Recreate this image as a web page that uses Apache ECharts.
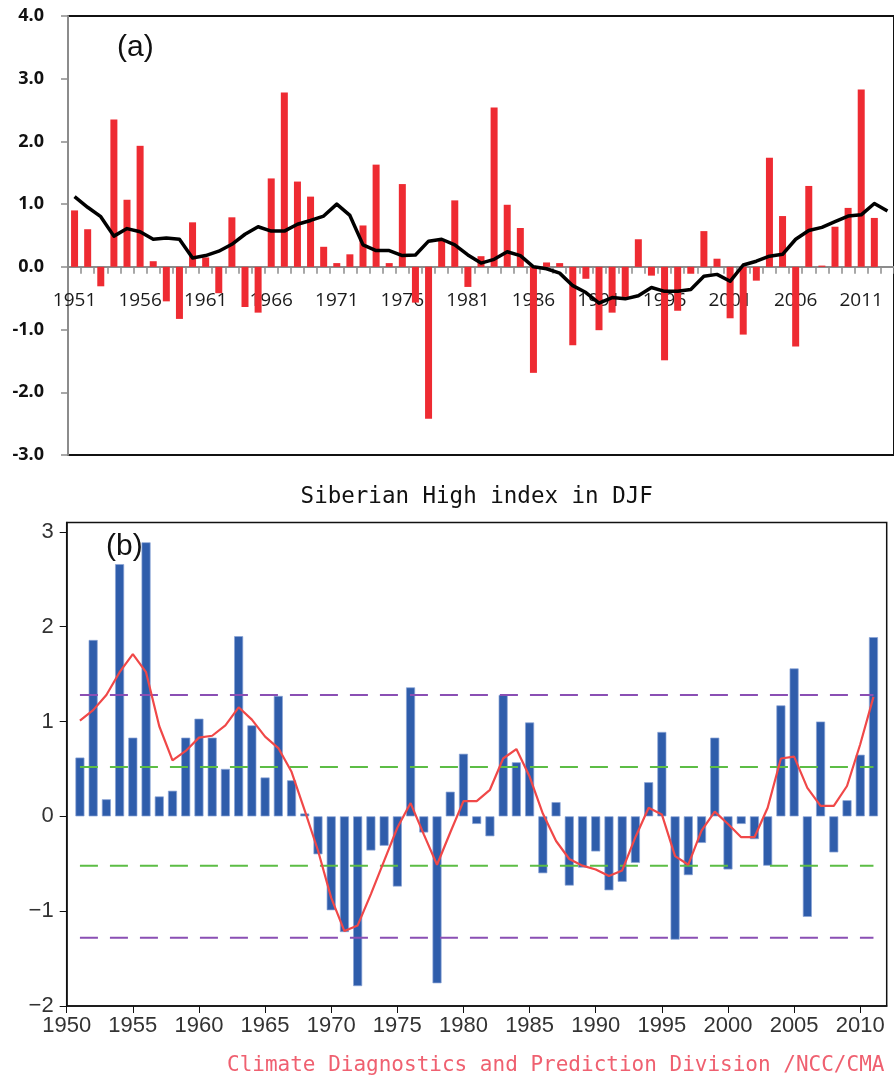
<!DOCTYPE html>
<html>
<head>
<meta charset="utf-8">
<script src="https://cdn.jsdelivr.net/npm/echarts@6/dist/echarts.min.js"></script>
<style>
  html, body { margin: 0; padding: 0; background: #ffffff; }
  #chart { width: 894px; height: 1079px; }
</style>
</head>
<body>
<div id="chart"></div>
<script>
// ---- Panel (a): winter index anomaly, 1951-2013 ----
const yearsA = [
  '1951','1952','1953','1954','1955','1956','1957','1958','1959','1960',
  '1961','1962','1963','1964','1965','1966','1967','1968','1969','1970',
  '1971','1972','1973','1974','1975','1976','1977','1978','1979','1980',
  '1981','1982','1983','1984','1985','1986','1987','1988','1989','1990',
  '1991','1992','1993','1994','1995','1996','1997','1998','1999','2000',
  '2001','2002','2003','2004','2005','2006','2007','2008','2009','2010',
  '2011','2012','2013'
];
const barsA = [
  0.90, 0.60, -0.31, 2.35, 1.07, 1.93, 0.09, -0.55, -0.83, 0.71,
  0.15, -0.42, 0.79, -0.64, -0.73, 1.41, 2.78, 1.36, 1.12, 0.32,
  0.06, 0.20, 0.66, 1.63, 0.06, 1.32, -0.57, -2.42, 0.43, 1.06,
  -0.32, 0.17, 2.54, 0.99, 0.62, -1.69, 0.07, 0.06, -1.25, -0.19,
  -1.01, -0.73, -0.48, 0.44, -0.14, -1.49, -0.70, -0.11, 0.57, 0.13,
  -0.82, -1.08, -0.22, 1.74, 0.81, -1.27, 1.29, 0.02, 0.64, 0.94,
  2.83, 0.78, null
];
const meanA = [
  1.12, 0.95, 0.80, 0.49, 0.61, 0.56, 0.44, 0.46, 0.44, 0.14,
  0.18, 0.25, 0.36, 0.52, 0.64, 0.57, 0.57, 0.68, 0.74, 0.81,
  1.00, 0.82, 0.35, 0.26, 0.26, 0.18, 0.19, 0.41, 0.44, 0.35,
  0.19, 0.06, 0.12, 0.24, 0.18, 0.00, -0.03, -0.10, -0.30, -0.41,
  -0.58, -0.49, -0.51, -0.46, -0.33, -0.39, -0.39, -0.36, -0.15, -0.12,
  -0.23, 0.03, 0.09, 0.17, 0.20, 0.44, 0.58, 0.63, 0.72, 0.81,
  0.83, 1.01, 0.89
];

// ---- Panel (b): Siberian High index in DJF, 1951-2011 ----
const yearsB = [
  1951, 1952, 1953, 1954, 1955, 1956, 1957, 1958, 1959, 1960,
  1961, 1962, 1963, 1964, 1965, 1966, 1967, 1968, 1969, 1970,
  1971, 1972, 1973, 1974, 1975, 1976, 1977, 1978, 1979, 1980,
  1981, 1982, 1983, 1984, 1985, 1986, 1987, 1988, 1989, 1990,
  1991, 1992, 1993, 1994, 1995, 1996, 1997, 1998, 1999, 2000,
  2001, 2002, 2003, 2004, 2005, 2006, 2007, 2008, 2009, 2010,
  2011
];
const indexB = [
  0.62, 1.86, 0.18, 2.66, 0.83, 2.89, 0.21, 0.27, 0.83, 1.03,
  0.83, 0.50, 1.90, 0.96, 0.41, 1.27, 0.38, 0.03, -0.40, -0.99,
  -1.22, -1.79, -0.36, -0.31, -0.74, 1.36, -0.17, -1.76, 0.26, 0.66,
  -0.08, -0.21, 1.28, 0.57, 0.99, -0.60, 0.15, -0.73, -0.54, -0.37,
  -0.78, -0.69, -0.49, 0.36, 0.89, -1.30, -0.62, -0.28, 0.83, -0.56,
  -0.08, -0.24, -0.52, 1.17, 1.56, -1.06, 1.00, -0.38, 0.17, 0.65,
  1.89
];
const smoothB = [
  1.01, 1.12, 1.28, 1.52, 1.71, 1.52, 0.95, 0.59, 0.69, 0.83,
  0.85, 0.96, 1.15, 1.02, 0.84, 0.72, 0.47, 0.06, -0.36, -0.86,
  -1.21, -1.15, -0.82, -0.47, -0.12, 0.14, -0.19, -0.51, -0.17, 0.16,
  0.16, 0.28, 0.61, 0.71, 0.42, 0.03, -0.26, -0.45, -0.52, -0.56,
  -0.63, -0.57, -0.22, 0.09, 0.02, -0.42, -0.51, -0.15, 0.05, -0.08,
  -0.22, -0.22, 0.09, 0.61, 0.63, 0.30, 0.11, 0.11, 0.32, 0.76,
  1.26
];
// reference levels: +/- 1.28 (purple) and +/- 0.52 (green)
const levelsOuter = [1.28, -1.28];
const levelsInner = [0.52, -0.52];
const yTicksB = [-2, -1, 0, 1, 2, 3];
const xTicksB = [1950, 1955, 1960, 1965, 1970, 1975, 1980, 1985, 1990, 1995, 2000, 2005, 2010];

// panel (a) geometry: the year axis runs along the zero line
const gridA = { left: 68, top: 16, width: 832, height: 439 };
const yMinA = -3, yMaxA = 4;
const zeroOffsetA = -gridA.height * (0 - yMinA) / (yMaxA - yMinA);

const pairsB = (vals) => yearsB.map((y, i) => [y, vals[i]]);
const levelSeries = (v, color) => ({
  type: 'line', xAxisIndex: 1, yAxisIndex: 1, silent: true,
  data: [[yearsB[0], v], [yearsB[yearsB.length - 1], v]],
  symbol: 'none',
  lineStyle: { color: color, width: 2, type: [18, 12] },
  z: 4
});
const minusSign = (s) => s.replace('-', '\u2212');

const chart = echarts.init(document.getElementById('chart'), null, { renderer: 'canvas' });

const option = {
  backgroundColor: '#ffffff',
  animation: false,
  grid: [
    Object.assign({ show: true, borderColor: '#111111', borderWidth: 2, backgroundColor: 'transparent' }, gridA),
    { left: 66.7, top: 522.4, width: 820, height: 483.6, show: true,
      borderColor: '#111111', borderWidth: 1.5, backgroundColor: 'transparent' }
  ],
  xAxis: [
    {
      type: 'category', gridIndex: 0, data: yearsA, position: 'bottom', offset: zeroOffsetA,
      axisLine: { onZero: false, lineStyle: { color: '#8c8c8c', width: 2 } },
      axisTick: { show: true, interval: 0, length: 7, lineStyle: { color: '#8c8c8c', width: 1.5 } },
      axisLabel: { interval: 4, margin: 24, fontFamily: 'Open Sans', fontSize: 19, color: '#1a1a1a' },
      splitLine: { show: false }
    },
    {
      type: 'value', gridIndex: 1, min: 1950, max: 2012, interval: 5,
      axisLine: { onZero: false, lineStyle: { color: '#111111', width: 1.5 } },
      axisTick: { customValues: xTicksB, length: 7, lineStyle: { color: '#111111', width: 1 } },
      axisLabel: { customValues: xTicksB, margin: 9, fontFamily: 'Liberation Sans', fontSize: 22, color: '#333333',
                   formatter: (v) => String(v) },
      splitLine: { show: false }
    }
  ],
  yAxis: [
    {
      type: 'value', gridIndex: 0, min: yMinA, max: yMaxA, interval: 1,
      axisLine: { show: true, lineStyle: { color: '#8c8c8c', width: 2 } },
      axisTick: { show: true, length: 7, lineStyle: { color: '#8c8c8c', width: 1.5 } },
      axisLabel: { margin: 24, fontFamily: 'Open Sans', fontWeight: 'bold', fontSize: 18, color: '#111111',
                   formatter: (v) => v.toFixed(1) },
      splitLine: { show: false }
    },
    {
      type: 'value', gridIndex: 1, min: -2, max: 3.1,
      axisLine: { show: true, onZero: false, lineStyle: { color: '#111111', width: 1.5 } },
      axisTick: { show: true, customValues: yTicksB, length: 7, lineStyle: { color: '#111111', width: 1 } },
      axisLabel: { customValues: yTicksB, margin: 13, fontFamily: 'Liberation Sans', fontSize: 22, color: '#333333',
                   formatter: (v) => minusSign(String(v)) },
      splitLine: { show: false }
    }
  ],
  series: [
    {
      name: 'anomaly', type: 'bar', xAxisIndex: 0, yAxisIndex: 0,
      data: barsA, barWidth: 7,
      itemStyle: { color: '#ee2b32' }, z: 2
    },
    {
      name: 'running mean', type: 'line', xAxisIndex: 0, yAxisIndex: 0,
      data: meanA, symbol: 'none',
      lineStyle: { color: '#000000', width: 3.5, join: 'round' }, z: 3
    },
    {
      name: 'index', type: 'bar', xAxisIndex: 1, yAxisIndex: 1,
      data: pairsB(indexB), barWidth: 9,
      itemStyle: { color: '#2f5dab', borderColor: '#8aa4d6', borderWidth: 0.7 }, z: 2
    },
    levelSeries(levelsOuter[0], '#8a4fb4'),
    levelSeries(levelsOuter[1], '#8a4fb4'),
    levelSeries(levelsInner[0], '#5cbd45'),
    levelSeries(levelsInner[1], '#5cbd45'),
    {
      name: 'smoothed', type: 'line', xAxisIndex: 1, yAxisIndex: 1,
      data: pairsB(smoothB), symbol: 'none',
      lineStyle: { color: '#f04848', width: 2.2 }, z: 5
    }
  ],
  graphic: [
    { type: 'text', left: 117, top: 33,
      style: { text: '(a)', font: '30px "Liberation Sans"', fill: '#111111' } },
    { type: 'text', left: 106, top: 532,
      style: { text: '(b)', font: '30px "Liberation Sans"', fill: '#111111' } },
    { type: 'text', x: 476.7, y: 497,
      style: { text: 'Siberian High index in DJF', font: '22.5px "DejaVu Sans Mono"', fill: '#111111',
               align: 'center', verticalAlign: 'middle' } },
    { type: 'text', x: 227, y: 1066,
      style: { text: 'Climate Diagnostics and Prediction Division /NCC/CMA', font: '21px "DejaVu Sans Mono"',
               fill: '#ef6070', align: 'left', verticalAlign: 'middle' } }
  ]
};

chart.setOption(option);
</script>
</body>
</html>
